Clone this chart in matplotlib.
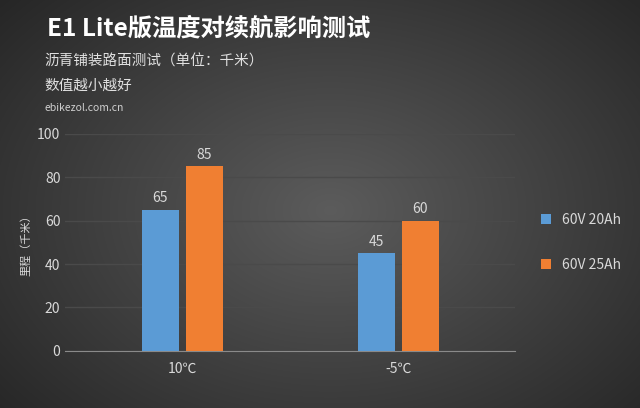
import matplotlib.pyplot as plt
import numpy as np

plt.rcParams['font.family'] = ['Noto Sans CJK SC', 'DejaVu Sans']

categories = ['10℃', '-5℃']
series_names = ['60V 20Ah', '60V 25Ah']
values_20ah = [65, 45]
values_25ah = [85, 60]
colors = ['#5b9bd5', '#f07f32']

fig = plt.figure(figsize=(6.4, 4.08), dpi=100)

# radial gradient background
bg = fig.add_axes([0, 0, 1, 1], zorder=-10)
yy, xx = np.mgrid[0:408, 0:640]
r = np.sqrt(((xx - 330) / 420.0) ** 2 + ((yy - 210) / 300.0) ** 2)
shade = np.clip(0.36 - 0.2 * r, 0.15, 0.36)
bg.imshow(np.dstack([shade] * 3), aspect='auto', extent=[0, 1, 0, 1])
bg.axis('off')

ax = fig.add_axes([0.102, 0.14, 0.703, 0.532])
ax.set_facecolor('none')
x = np.arange(len(categories))
w = 0.17
for off, vals, c, name in [(-0.102, values_20ah, colors[0], series_names[0]),
                           (0.102, values_25ah, colors[1], series_names[1])]:
    bars = ax.bar(x + off, vals, w, color=c, label=name, zorder=3)
    for b, v in zip(bars, vals):
        ax.text(b.get_x() + b.get_width() / 2, v + 2, str(v), ha='center',
                va='bottom', color='#d9d9d9', fontsize=10)

ax.set_xlim(-0.542, 1.542)
ax.set_ylim(0, 100)
ax.set_yticks(range(0, 101, 20))
ax.set_xticks(x)
ax.set_xticklabels(categories)
ax.tick_params(colors='#d9d9d9', labelsize=10, length=0)
ax.tick_params(axis='x', pad=8)
ax.grid(axis='y', color='#4a4a4a', linewidth=1, zorder=0)
for s in ['top', 'right', 'left']:
    ax.spines[s].set_visible(False)
ax.spines['bottom'].set_color('#8a8a8a')
ax.set_ylabel('里程（千米）', color='#d9d9d9', fontsize=8)

ax.legend(loc='center left', bbox_to_anchor=(1.03, 0.5), frameon=False,
          labelcolor='#d9d9d9', fontsize=10, handlelength=0.7, handleheight=0.7,
          labelspacing=2.2)

fig.text(0.073, 0.93, 'E1 Lite版温度对续航影响测试', color='white', fontsize=17.5,
         fontweight='bold', va='center')
fig.text(0.07, 0.85, '沥青铺装路面测试（单位：千米）', color='#e0e0e0', fontsize=10.5, va='center')
fig.text(0.07, 0.79, '数值越小越好', color='#e0e0e0', fontsize=10.5, va='center')
fig.text(0.07, 0.735, 'ebikezol.com.cn', color='#cfcfcf', fontsize=7.5, va='center')

fig.savefig('out.png', dpi=100)
